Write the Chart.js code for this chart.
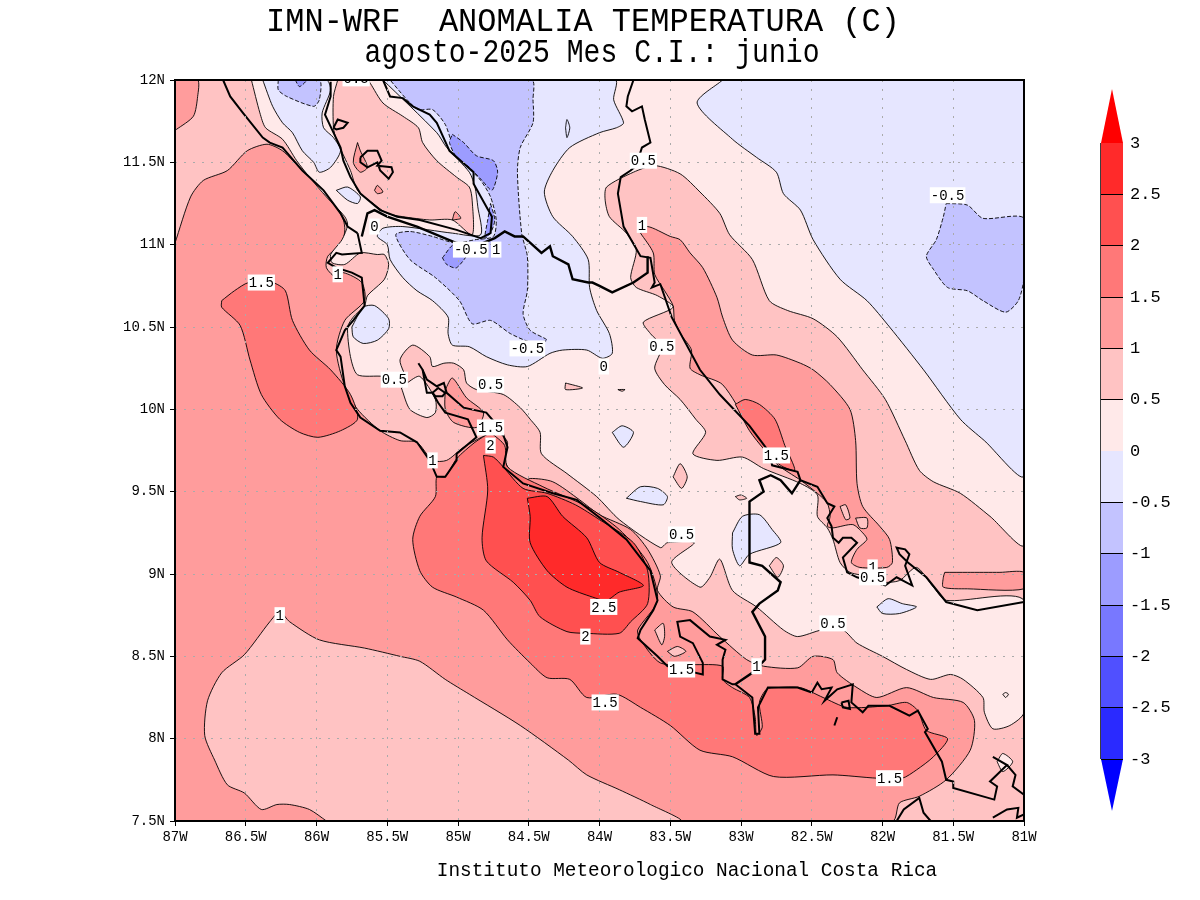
<!DOCTYPE html>
<html>
<head>
<meta charset="utf-8">
<title>IMN-WRF anomalia temperatura</title>
<script src="https://cdn.jsdelivr.net/npm/chart.js@4/dist/chart.umd.min.js"></script>
<style>
  html, body { margin: 0; background: #fff; }
  #map { position: absolute; left: 0; top: 0; }
  #colorbar { position: absolute; left: 1100px; top: 89px; }
</style>
</head>
<body>
<canvas id="map" width="1200" height="900"></canvas>
<canvas id="colorbar" width="100" height="722"></canvas>
<script>
const lonTicks = [-87, -86.5, -86, -85.5, -85, -84.5, -84, -83.5, -83, -82.5, -82, -81.5, -81];
const latTicks = [7.5, 8, 8.5, 9, 9.5, 10, 10.5, 11, 11.5, 12];

// colour bar
const cbLevels = [-3, -2.5, -2, -1.5, -1, -0.5, 0, 0.5, 1, 1.5, 2, 2.5, 3];
const cbCells = ["#2a2aff", "#5050ff", "#7878ff", "#9c9cff", "#c3c3ff", "#e6e6ff", "#ffe9e9", "#ffc3c3", "#ff9c9c", "#ff7878", "#ff5050", "#ff2a2a"];
const cbTipLow = "#0000ff";
const cbTipHigh = "#ff0000";

const C_N10 = "#9c9cff", C_N05 = "#c3c3ff", C_N00 = "#e6e6ff", C_P00 = "#ffe9e9";
const C_P05 = "#ffc3c3", C_P10 = "#ff9c9c", C_P15 = "#ff7878", C_P20 = "#ff5050", C_P25 = "#ff2a2a";

// contour regions, lon/lat
const plotBox = [[-87,12],[-81,12],[-81,7.5],[-87,7.5]];
const west1 = [[-87,11.01],[-86.89,11.29],[-86.80,11.39],[-86.63,11.45],[-86.49,11.57],[-86.35,11.61],[-86.24,11.57],[-86.10,11.45],[-85.98,11.35],[-85.86,11.23],[-85.81,11.15],[-85.80,11.09],[-85.82,11.01],[-85.92,10.93],[-85.93,10.86],[-85.86,10.80],[-85.81,10.83],[-85.68,10.77],[-85.66,10.66],[-85.80,10.54],[-85.86,10.36],[-85.80,10.14],[-85.71,10.00],[-85.55,9.87],[-85.41,9.81],[-85.29,9.80],[-85.18,9.69],[-85.08,9.69],[-84.96,9.77],[-84.81,9.84],[-84.72,9.86],[-84.65,9.80],[-84.67,9.69],[-84.56,9.55],[-84.49,9.58],[-84.33,9.56],[-84.14,9.45],[-84.00,9.36],[-83.78,9.27],[-83.66,9.15],[-83.57,8.99],[-83.59,8.90],[-83.48,8.80],[-83.34,8.77],[-83.15,8.62],[-82.96,8.48],[-82.84,8.44],[-82.60,8.43],[-82.49,8.50],[-82.35,8.48],[-82.32,8.40],[-82.18,8.31],[-82.04,8.25],[-81.83,8.31],[-81.64,8.25],[-81.43,8.22],[-81.35,8.11],[-81.38,7.93],[-81.55,7.75],[-81.74,7.65],[-81.88,7.61],[-81.93,7.5],[-87,7.5]];
const southBand = [[-85.93,7.5],[-86.05,7.57],[-86.19,7.60],[-86.28,7.60],[-86.39,7.57],[-86.51,7.67],[-86.63,7.72],[-86.72,7.87],[-86.79,8.02],[-86.77,8.23],[-86.67,8.40],[-86.51,8.51],[-86.33,8.71],[-86.26,8.77],[-86.19,8.71],[-85.98,8.60],[-85.66,8.55],[-85.41,8.50],[-85.27,8.47],[-85.09,8.36],[-84.92,8.27],[-84.56,8.08],[-84.22,7.87],[-84.09,7.78],[-83.86,7.69],[-83.64,7.60],[-83.43,7.5]];
const nwCorner = [[-87,12],[-86.84,12],[-86.84,11.90],[-86.87,11.78],[-86.99,11.70],[-87,11.70]];
const west15 = [[-86.67,10.66],[-86.58,10.72],[-86.48,10.77],[-86.31,10.77],[-86.22,10.72],[-86.17,10.54],[-86.05,10.36],[-85.90,10.24],[-85.76,10.09],[-85.71,9.94],[-85.83,9.87],[-85.99,9.83],[-86.12,9.86],[-86.26,9.94],[-86.39,10.09],[-86.47,10.30],[-86.54,10.51],[-86.67,10.62]];
const south15 = [[-84.77,9.86],[-84.88,9.80],[-85.01,9.70],[-85.09,9.59],[-85.15,9.59],[-85.16,9.47],[-85.27,9.35],[-85.32,9.21],[-85.27,9.02],[-85.18,8.92],[-85.01,8.86],[-84.82,8.78],[-84.65,8.60],[-84.49,8.46],[-84.37,8.37],[-84.21,8.36],[-84.09,8.25],[-83.88,8.27],[-83.71,8.19],[-83.50,8.08],[-83.29,7.93],[-83.06,7.89],[-82.77,7.77],[-82.35,7.78],[-82.04,7.76],[-81.86,7.76],[-81.76,7.81],[-81.64,7.89],[-81.54,8.00],[-81.69,8.05],[-81.75,8.17],[-81.83,8.22],[-81.97,8.20],[-82.25,8.19],[-82.42,8.25],[-82.58,8.31],[-82.75,8.31],[-82.82,8.30],[-82.87,8.22],[-82.85,8.07],[-82.89,8.02],[-82.90,8.13],[-82.94,8.25],[-83.06,8.31],[-83.13,8.36],[-83.13,8.44],[-83.34,8.45],[-83.57,8.46],[-83.71,8.60],[-83.73,8.66],[-83.59,8.84],[-83.66,9.07],[-83.86,9.27],[-84.09,9.41],[-84.40,9.53],[-84.65,9.65],[-84.67,9.78]];
const osaSpot1 = [[-83.61,8.66],[-83.55,8.70],[-83.54,8.62],[-83.56,8.57]];
const osaSpot2 = [[-83.52,8.53],[-83.45,8.56],[-83.39,8.53],[-83.47,8.50]];
const core2 = [[-84.82,9.72],[-84.79,9.51],[-84.83,9.22],[-84.80,9.08],[-84.61,8.95],[-84.49,8.84],[-84.42,8.74],[-84.23,8.65],[-84.10,8.64],[-83.86,8.64],[-83.78,8.71],[-83.66,8.82],[-83.66,9.02],[-83.76,9.19],[-84.00,9.33],[-84.17,9.42],[-84.37,9.49],[-84.54,9.52],[-84.68,9.65],[-84.75,9.71]];
const core25 = [[-84.51,9.46],[-84.37,9.47],[-84.26,9.35],[-84.09,9.22],[-84.00,9.07],[-83.86,9.01],[-83.69,8.93],[-83.86,8.89],[-83.95,8.84],[-84.05,8.86],[-84.23,8.92],[-84.37,9.02],[-84.49,9.19],[-84.49,9.35]];
const caribe1 = [[-83.71,11.07],[-83.66,11.11],[-83.50,11.05],[-83.43,11.03],[-83.36,10.95],[-83.27,10.86],[-83.17,10.68],[-83.13,10.56],[-83.06,10.42],[-82.92,10.33],[-82.75,10.33],[-82.58,10.28],[-82.49,10.24],[-82.37,10.15],[-82.23,10.00],[-82.19,9.81],[-82.18,9.55],[-82.14,9.41],[-82.02,9.29],[-81.95,9.21],[-81.93,9.07],[-81.97,9.04],[-82.16,9.04],[-82.22,9.07],[-82.18,9.15],[-82.11,9.21],[-82.14,9.25],[-82.21,9.30],[-82.35,9.28],[-82.39,9.29],[-82.37,9.35],[-82.39,9.43],[-82.46,9.49],[-82.58,9.57],[-82.75,9.67],[-82.80,9.75],[-82.94,9.90],[-83.13,10.15],[-83.29,10.21],[-83.36,10.25],[-83.35,10.36],[-83.42,10.45],[-83.47,10.54],[-83.48,10.63],[-83.54,10.72],[-83.61,10.82],[-83.62,10.95]];
const caribe15 = [[-83.04,10.03],[-82.97,10.06],[-82.87,10.03],[-82.76,9.94],[-82.69,9.78],[-82.62,9.63],[-82.72,9.66],[-82.83,9.75],[-82.94,9.87]];
const eastBand = [[-81.56,9.01],[-81.40,9.01],[-81.17,9.01],[-81,9.01],[-81,8.91],[-81.40,8.91],[-81.57,8.92],[-81.57,8.98]];
const below05 = [[-86.46,12],[-81,12],[-81,9.18],[-81.24,9.35],[-81.45,9.49],[-81.64,9.56],[-81.74,9.63],[-81.84,9.81],[-81.98,10.06],[-82.14,10.24],[-82.32,10.44],[-82.49,10.55],[-82.67,10.60],[-82.80,10.66],[-82.92,10.91],[-83.08,11.06],[-83.15,11.19],[-83.29,11.32],[-83.43,11.43],[-83.61,11.48],[-83.76,11.44],[-83.95,11.35],[-83.96,11.27],[-83.93,11.17],[-83.81,11.07],[-83.74,10.97],[-83.78,10.80],[-83.74,10.74],[-83.59,10.69],[-83.48,10.62],[-83.69,10.53],[-83.64,10.46],[-83.56,10.38],[-83.61,10.25],[-83.54,10.15],[-83.43,10.06],[-83.32,9.94],[-83.25,9.86],[-83.34,9.73],[-83.17,9.69],[-82.99,9.71],[-82.84,9.64],[-82.58,9.55],[-82.46,9.48],[-82.46,9.35],[-82.39,9.28],[-82.35,9.21],[-82.30,9.07],[-82.23,9.01],[-82.07,8.98],[-82.00,8.95],[-81.88,8.96],[-81.76,9.04],[-81.64,8.92],[-81.55,8.84],[-81,8.84],[-81,8.16],[-81.10,8.08],[-81.22,8.06],[-81.28,8.16],[-81.29,8.25],[-81.43,8.36],[-81.52,8.39],[-81.66,8.36],[-81.83,8.42],[-82.00,8.50],[-82.18,8.58],[-82.28,8.66],[-82.43,8.66],[-82.60,8.62],[-82.70,8.66],[-82.89,8.80],[-83.06,8.90],[-83.15,9.09],[-83.22,8.98],[-83.29,8.92],[-83.49,9.07],[-83.33,9.19],[-83.52,9.19],[-83.57,9.16],[-83.86,9.33],[-84.02,9.47],[-84.23,9.61],[-84.41,9.73],[-84.42,9.86],[-84.49,9.94],[-84.56,10.01],[-84.68,10.09],[-84.87,10.12],[-84.94,10.16],[-84.96,10.24],[-85.03,10.28],[-85.10,10.28],[-85.18,10.26],[-85.20,10.32],[-85.32,10.39],[-85.41,10.30],[-85.36,10.16],[-85.53,10.20],[-85.71,10.21],[-85.76,10.32],[-85.78,10.50],[-85.74,10.56],[-85.66,10.63],[-85.64,10.69],[-85.52,10.79],[-85.49,10.88],[-85.52,10.94],[-85.57,10.94],[-85.69,10.95],[-85.80,10.88],[-85.89,10.89],[-85.90,10.94],[-85.82,11.03],[-85.78,11.12],[-85.80,11.17],[-85.93,11.29],[-86.05,11.41],[-86.14,11.51],[-86.24,11.64],[-86.36,11.71],[-86.40,11.80]];
const lakeWarm = [[-85.85,12],[-85.88,11.90],[-85.88,11.71],[-85.86,11.64],[-85.76,11.45],[-85.71,11.33],[-85.60,11.25],[-85.50,11.19],[-85.39,11.17],[-85.20,11.15],[-85.04,11.15],[-84.90,11.06],[-84.90,11.27],[-84.92,11.35],[-85.01,11.41],[-85.15,11.51],[-85.25,11.62],[-85.28,11.71],[-85.39,11.78],[-85.53,11.86],[-85.62,11.98],[-85.64,12]];
const lakeSpot1 = [[-85.71,11.62],[-85.74,11.50],[-85.69,11.44],[-85.64,11.47],[-85.69,11.57]];
const lakeSpot2 = [[-85.59,11.33],[-85.57,11.36],[-85.53,11.32],[-85.57,11.31]];
const lakeSpot3 = [[-85.04,11.15],[-85.02,11.20],[-84.98,11.16]];
const centralCool = [[-85.53,12],[-83.89,12],[-83.90,11.88],[-83.83,11.74],[-83.88,11.71],[-84.00,11.68],[-84.21,11.59],[-84.33,11.45],[-84.39,11.32],[-84.33,11.17],[-84.19,11.05],[-84.08,10.91],[-84.07,10.74],[-84.02,10.60],[-83.93,10.46],[-83.91,10.34],[-83.98,10.31],[-84.09,10.36],[-84.26,10.36],[-84.35,10.34],[-84.51,10.26],[-84.65,10.27],[-84.80,10.32],[-84.92,10.38],[-85.04,10.39],[-85.07,10.46],[-85.07,10.56],[-85.18,10.66],[-85.29,10.72],[-85.39,10.80],[-85.48,10.91],[-85.50,11.00],[-85.57,11.05],[-85.53,11.10],[-85.39,11.11],[-85.04,11.07],[-84.84,11.06],[-84.86,11.23],[-84.88,11.35],[-84.92,11.44],[-85.08,11.59],[-85.15,11.68]];
const neCool = [[-83.13,12],[-81,12],[-81,9.60],[-81.28,9.81],[-81.45,9.94],[-81.71,10.24],[-81.95,10.50],[-82.11,10.66],[-82.30,10.79],[-82.49,11.03],[-82.58,11.21],[-82.70,11.31],[-82.75,11.44],[-82.89,11.53],[-83.06,11.64],[-83.31,11.86]];
const nwCool = [[-86.38,12],[-86.31,11.84],[-86.24,11.74],[-86.17,11.68],[-86.10,11.57],[-86.02,11.50],[-85.98,11.44],[-85.90,11.47],[-85.83,11.57],[-85.88,11.65],[-85.95,11.71],[-85.96,11.80],[-85.90,11.94],[-85.93,12]];
const coolSpotA = [[-85.86,11.33],[-85.78,11.35],[-85.69,11.29],[-85.71,11.25],[-85.78,11.27]];
const coolSpotB = [[-85.75,10.50],[-85.67,10.62],[-85.59,10.63],[-85.49,10.55],[-85.49,10.49],[-85.57,10.42],[-85.67,10.40],[-85.74,10.44]];
const coolSpotC = [[-83.06,9.25],[-82.99,9.35],[-82.87,9.36],[-82.78,9.27],[-82.72,9.19],[-82.94,9.12],[-83.01,9.05],[-83.06,9.15]];
const coolSpotD = [[-82.04,8.80],[-81.96,8.85],[-81.86,8.82],[-81.76,8.80],[-81.88,8.76],[-82.00,8.76]];
const coolSpotE = [[-83.81,9.46],[-83.71,9.53],[-83.59,9.52],[-83.52,9.47],[-83.55,9.42],[-83.71,9.44]];
const coolSpotF = [[-83.91,9.86],[-83.84,9.90],[-83.76,9.86],[-83.83,9.77]];
const nicoyaIsle = [[-85.40,10.13],[-85.34,10.00],[-85.22,9.95],[-85.16,9.98],[-85.16,10.06],[-85.27,10.20],[-85.36,10.16]];
const nicoyaWarm = [[-85.09,10.12],[-85.04,10.19],[-84.94,10.07],[-84.82,9.98],[-84.87,9.89],[-85.03,9.92],[-85.09,10.00]];
const warmSpotA = [[-84.24,10.16],[-84.12,10.13],[-84.24,10.12]];
const warmSpotB = [[-83.87,10.12],[-83.82,10.12],[-83.84,10.11]];
const warmSpotC = [[-83.48,9.59],[-83.43,9.67],[-83.38,9.59],[-83.42,9.52]];
const warmSpotD = [[-83.04,9.47],[-83.00,9.48],[-82.96,9.46],[-83.01,9.45]];
const warmSpotE = [[-82.80,9.05],[-82.75,9.10],[-82.70,9.05],[-82.74,8.98]];
const warmSpotF = [[-82.30,9.41],[-82.26,9.42],[-82.23,9.34],[-82.26,9.33]];
const warmSpotG = [[-82.19,9.34],[-82.11,9.34],[-82.11,9.28],[-82.16,9.28]];
const seDiamond = [[-81.19,7.86],[-81.15,7.91],[-81.08,7.86],[-81.15,7.80]];
const seTiny = [[-81.15,8.27],[-81.13,8.28],[-81.11,8.27],[-81.13,8.25]];
const tinyNorth = [[-84.24,11.71],[-84.23,11.76],[-84.21,11.71],[-84.23,11.65]];
const minus05Main = [[-85.48,12],[-84.48,12],[-84.47,11.88],[-84.47,11.74],[-84.56,11.59],[-84.58,11.44],[-84.55,11.07],[-84.51,10.93],[-84.51,10.72],[-84.54,10.58],[-84.49,10.48],[-84.37,10.42],[-84.49,10.41],[-84.63,10.46],[-84.77,10.54],[-84.90,10.52],[-84.99,10.66],[-85.16,10.80],[-85.34,10.91],[-85.44,11.06],[-85.34,11.08],[-85.18,11.05],[-85.02,11.01],[-84.88,11.03],[-84.75,11.05],[-84.73,11.15],[-84.77,11.29],[-84.84,11.39],[-84.97,11.51],[-85.04,11.61],[-85.09,11.73],[-85.18,11.82],[-85.28,11.82],[-85.36,11.88]];
const minus05East = [[-81.55,11.25],[-81.40,11.24],[-81.29,11.16],[-81,11.16],[-81,10.80],[-81.04,10.66],[-81.13,10.59],[-81.29,10.66],[-81.40,10.72],[-81.54,10.74],[-81.64,10.85],[-81.69,10.93],[-81.62,11.03],[-81.57,11.17]];
const minus05Top = [[-86.27,12],[-86.27,11.94],[-86.21,11.90],[-86.02,11.84],[-85.98,11.88],[-85.98,12]];
const minus1A = [[-85.04,11.67],[-84.96,11.62],[-84.87,11.54],[-84.75,11.51],[-84.72,11.44],[-84.76,11.33],[-84.83,11.39],[-84.92,11.47],[-85.01,11.53],[-85.06,11.62]];
const minus1B = [[-84.77,11.25],[-84.74,11.15],[-84.77,11.07],[-84.81,11.04],[-84.79,11.15]];
const minus1C = [[-85.11,10.92],[-85.03,11.00],[-84.92,10.97],[-85.01,10.86],[-85.08,10.88]];
const minus1Top = [[-86.15,12],[-86.12,11.96],[-86.07,12]];

// coastlines and borders
const coastNic = [[-86.66,12],[-86.61,11.90],[-86.52,11.80],[-86.38,11.65],[-86.33,11.62],[-86.24,11.59],[-86.10,11.45],[-85.95,11.33],[-85.83,11.19],[-85.78,11.11],[-85.71,11.07]];
const borderNorth = [[-85.68,11.05],[-85.64,11.19],[-85.59,11.21],[-85.50,11.17],[-85.29,11.11],[-85.01,11.01],[-84.88,10.99],[-84.74,11.04],[-84.67,11.08],[-84.60,11.05],[-84.54,11.05],[-84.41,10.95],[-84.35,10.99],[-84.33,10.93],[-84.22,10.88],[-84.19,10.79],[-84.08,10.77],[-84.05,10.77],[-84,10.75],[-83.91,10.71],[-83.76,10.77],[-83.66,10.83],[-83.66,10.93]];
const coastCaribe = [[-83.76,12],[-83.80,11.90],[-83.81,11.84],[-83.77,11.81],[-83.70,11.84],[-83.68,11.76],[-83.64,11.62],[-83.70,11.59],[-83.74,11.48],[-83.78,11.45],[-83.85,11.41],[-83.87,11.31],[-83.83,11.11],[-83.71,10.93],[-83.64,10.92],[-83.61,10.77],[-83.63,10.74],[-83.57,10.76],[-83.49,10.56],[-83.29,10.24],[-83.15,10.09],[-82.94,9.90],[-82.80,9.74],[-82.78,9.66],[-82.60,9.62],[-82.58,9.57],[-82.46,9.53],[-82.39,9.43],[-82.34,9.41],[-82.39,9.34],[-82.36,9.29],[-82.35,9.22],[-82.31,9.19],[-82.28,9.22],[-82.22,9.22],[-82.18,9.19],[-82.28,9.10],[-82.25,9.01],[-82.18,8.98],[-81.98,8.93],[-81.90,8.98],[-81.79,8.93],[-81.84,9.05],[-81.81,9.12],[-81.84,9.15],[-81.90,9.16],[-81.88,9.12],[-81.82,9.07],[-81.69,8.98],[-81.55,8.83],[-81.33,8.78],[-81,8.83]];
const borderSouth = [[-82.58,9.57],[-82.64,9.49],[-82.72,9.57],[-82.79,9.60],[-82.87,9.57],[-82.84,9.50],[-82.94,9.44],[-82.94,9.07],[-82.85,9.05],[-82.72,8.95],[-82.74,8.90],[-82.87,8.82],[-82.92,8.77],[-82.83,8.62],[-82.83,8.48],[-82.92,8.40],[-83.04,8.33]];
const coastPanama = [[-83.04,8.33],[-82.92,8.25],[-82.90,8.03],[-82.87,8.03],[-82.88,8.19],[-82.81,8.31],[-82.60,8.31],[-82.50,8.28],[-82.46,8.34],[-82.43,8.30],[-82.36,8.31],[-82.41,8.23],[-82.32,8.30],[-82.21,8.33],[-82.22,8.22],[-82.14,8.16],[-82.10,8.20],[-81.95,8.20],[-81.81,8.14],[-81.75,8.17],[-81.68,8.06],[-81.70,8.04],[-81.58,7.86],[-81.55,7.75],[-81.50,7.74],[-81.50,7.70],[-81.21,7.63],[-81.19,7.71],[-81.24,7.74],[-81.12,7.84],[-81.22,7.89]];
const coastPanamaEast = [[-81.12,7.84],[-81.06,7.78],[-81.08,7.71],[-81,7.66]];
const coastPanamaIsle = [[-82.29,8.22],[-82.24,8.23],[-82.23,8.18],[-82.28,8.19],[-82.29,8.22]];
const coastPanamaDash = [[-82.34,8.08],[-82.32,8.13]];
const coastSouthA = [[-81.90,7.5],[-81.85,7.57],[-81.74,7.64],[-81.71,7.55],[-81.66,7.5]];
const coastSouthB = [[-81.22,7.52],[-81.12,7.57],[-81.04,7.58],[-81.05,7.52],[-81,7.54]];
const coastNicoya = [[-85.71,11.07],[-85.68,10.95],[-85.82,10.94],[-85.86,10.95],[-85.92,10.89],[-85.86,10.86],[-85.75,10.83],[-85.68,10.80],[-85.66,10.63],[-85.74,10.54],[-85.80,10.48],[-85.86,10.36],[-85.83,10.32],[-85.80,10.14],[-85.76,10.04],[-85.69,9.95],[-85.55,9.87],[-85.41,9.86],[-85.29,9.80],[-85.20,9.69],[-85.15,9.59],[-85.09,9.59],[-85.01,9.69],[-85.01,9.73],[-84.87,9.83],[-84.93,9.94],[-85.09,9.98],[-85.14,10.04],[-85.18,10.10],[-85.22,10.10],[-85.25,10.24],[-85.28,10.28]];
const coastGulf = [[-85.25,10.24],[-85.22,10.18],[-85.15,10.14],[-85.10,10.16],[-85.08,10.10],[-84.96,10.01],[-84.80,9.98],[-84.69,9.87],[-84.65,9.77],[-84.67,9.69],[-84.68,9.65],[-84.54,9.55],[-84.33,9.49],[-84.16,9.45],[-83.98,9.33],[-83.81,9.21],[-83.64,9.02],[-83.59,8.84],[-83.62,8.78],[-83.71,8.66],[-83.73,8.61],[-83.59,8.50],[-83.52,8.44],[-83.27,8.39],[-83.27,8.46],[-83.34,8.58],[-83.43,8.62],[-83.45,8.71],[-83.36,8.72],[-83.22,8.62],[-83.11,8.60],[-83.17,8.57],[-83.11,8.54],[-83.13,8.48],[-83.13,8.36],[-83.06,8.33],[-83.04,8.33]];
const gulfIsle = [[-85.18,10.10],[-85.14,10.13],[-85.09,10.10],[-85.11,10.08],[-85.16,10.08],[-85.18,10.10]];
const lakeShore = [[-85.90,11.99],[-85.90,11.90],[-85.94,11.79],[-85.88,11.68],[-85.83,11.59],[-85.81,11.51],[-85.76,11.41],[-85.69,11.31],[-85.55,11.21],[-85.43,11.17],[-85.27,11.15],[-85.01,11.09],[-84.84,11.04],[-84.77,11.07],[-84.76,11.17],[-84.89,11.37],[-84.89,11.44],[-85.06,11.57],[-85.15,11.74],[-85.20,11.79],[-85.32,11.84],[-85.39,11.89],[-85.48,11.90],[-85.53,12]];
const lakeIsleA = [[-85.69,11.53],[-85.64,11.57],[-85.57,11.57],[-85.54,11.51],[-85.57,11.48],[-85.47,11.47],[-85.46,11.44],[-85.49,11.40],[-85.55,11.45],[-85.57,11.50],[-85.64,11.47],[-85.69,11.50],[-85.69,11.53]];
const lakeIsleB = [[-85.88,11.71],[-85.85,11.76],[-85.78,11.74],[-85.81,11.71],[-85.86,11.70],[-85.88,11.71]];

// contour labels
const labelTexts = ["0.5", "1.5", "1", "0", "-0.5", "1", "0.5", "1", "-0.5", "0.5", "0", "-0.5", "0.5", "0.5", "1.5", "2", "1", "1.5", "0.5", "1", "0.5", "2.5", "2", "1", "0.5", "1.5", "1", "1.5", "1.5"];
const labelLons = [-85.72, -86.39, -85.85, -85.59, -84.91, -84.73, -83.69, -83.70, -81.54, -83.56, -83.97, -84.51, -85.45, -84.77, -84.77, -84.77, -85.18, -82.75, -83.42, -82.07, -82.07, -83.97, -84.10, -86.26, -82.35, -83.42, -82.89, -83.96, -81.95];
const labelLats = [12.01, 10.77, 10.82, 11.11, 10.97, 10.97, 11.51, 11.12, 11.30, 10.38, 10.26, 10.37, 10.18, 10.15, 9.89, 9.78, 9.69, 9.72, 9.24, 9.04, 8.98, 8.80, 8.62, 8.75, 8.70, 8.42, 8.44, 8.22, 7.76];

const titleLine1 = "IMN-WRF  ANOMALIA TEMPERATURA (C)";
const titleLine2 = "agosto-2025 Mes C.I.: junio";
const footerText = "Instituto Meteorologico Nacional Costa Rica";

const MONO = '"Liberation Mono", monospace';

const toXY = pts => pts.map(([x, y]) => ({ x, y }));

function region(pts, color, dashed, noLine) {
    return {
        data: toXY(pts.concat([pts[0]])),
        showLine: true,
        fill: "shape",
        backgroundColor: color,
        borderColor: noLine ? color : "#000",
        borderWidth: noLine ? 0 : 0.9,
        borderDash: dashed ? [4, 2] : [],
        pointRadius: 0,
        tension: noLine ? 0 : 0.25
    };
}

function shore(pts, width) {
    return {
        data: toXY(pts),
        showLine: true,
        fill: false,
        borderColor: "#000",
        borderWidth: width || 2,
        pointRadius: 0,
        tension: 0
    };
}

// painter's order, bottom first
const mapLayers = [
    region(plotBox, C_P05, false, true),
    region(west1, C_P10),
    region(southBand, C_P05),
    region(nwCorner, C_P10),
    region(west15, C_P15),
    region(south15, C_P15),
    region(osaSpot1, C_P05),
    region(osaSpot2, C_P05),
    region(core2, C_P20),
    region(core25, C_P25),
    region(caribe1, C_P10),
    region(caribe15, C_P15),
    region(eastBand, C_P10),
    region(below05, C_P00),
    region(centralCool, C_N00),
    region(neCool, C_N00),
    region(nwCool, C_N00),
    region(lakeWarm, C_P05),
    region(lakeSpot1, C_P10),
    region(lakeSpot2, C_P10),
    region(lakeSpot3, C_P10),
    region(coolSpotA, C_N00),
    region(coolSpotB, C_N00),
    region(coolSpotC, C_N00),
    region(coolSpotD, C_N00),
    region(coolSpotE, C_N00),
    region(coolSpotF, C_N00),
    region(nicoyaIsle, C_P00),
    region(nicoyaWarm, C_P10),
    region(warmSpotA, C_P05),
    region(warmSpotB, C_P05),
    region(warmSpotC, C_P05),
    region(warmSpotD, C_P05),
    region(warmSpotE, C_P05),
    region(warmSpotF, C_P05),
    region(warmSpotG, C_P05),
    region(seDiamond, C_P00),
    region(seTiny, C_P00),
    region(tinyNorth, C_N00),
    region(minus05Main, C_N05, true),
    region(minus05East, C_N05, true),
    region(minus05Top, C_N05, true),
    region(minus1A, C_N10, true),
    region(minus1B, C_N10, true),
    region(minus1C, C_N10, true),
    region(minus1Top, C_N10, true),
    shore(coastNic),
    shore(borderNorth, 2.4),
    shore(coastCaribe),
    shore(borderSouth, 2.4),
    shore(coastPanama),
    shore(coastPanamaEast),
    shore(coastPanamaIsle),
    shore(coastPanamaDash),
    shore(coastSouthA),
    shore(coastSouthB),
    shore(coastNicoya),
    shore(coastGulf),
    shore(gulfIsle),
    shore(lakeShore),
    shore(lakeIsleA),
    shore(lakeIsleB)
];
// chart.js paints low "order" last
mapLayers.forEach((d, i) => { d.order = mapLayers.length - i; });

const mapOverlay = {
    id: "mapOverlay",
    afterDraw(chart) {
        const { ctx, chartArea: a, scales } = chart;
        ctx.save();
        ctx.beginPath();
        ctx.rect(a.left, a.top, a.right - a.left, a.bottom - a.top);
        ctx.clip();
        ctx.font = "14px " + MONO;
        ctx.textAlign = "center";
        ctx.textBaseline = "middle";
        labelTexts.forEach((t, i) => {
            const x = scales.x.getPixelForValue(labelLons[i]);
            const y = scales.y.getPixelForValue(labelLats[i]);
            const w = ctx.measureText(t).width + 2;
            ctx.fillStyle = "#fff";
            ctx.fillRect(x - w / 2, y - 8, w, 16);
            ctx.fillStyle = "#000";
            ctx.fillText(t, x, y + 1);
        });
        ctx.restore();

        ctx.save();
        ctx.strokeStyle = "#000";
        ctx.lineWidth = 2;
        ctx.strokeRect(a.left, a.top, a.right - a.left, a.bottom - a.top);
        ctx.fillStyle = "#000";
        ctx.textAlign = "center";
        ctx.textBaseline = "alphabetic";
        ctx.font = "33px " + MONO;
        ctx.fillText(titleLine1, 583, 31, 634);
        ctx.fillText(titleLine2, 592, 62, 455);
        ctx.font = "19.4px " + MONO;
        ctx.fillText(footerText, 687, 876);
        ctx.restore();
    }
};

new Chart(document.getElementById("map"), {
    type: "scatter",
    data: { datasets: mapLayers },
    plugins: [mapOverlay],
    options: {
        responsive: false,
        animation: false,
        devicePixelRatio: 1,
        events: [],
        layout: { padding: { top: 80, right: 176, bottom: 0, left: 0 } },
        plugins: { legend: { display: false }, tooltip: { enabled: false } },
        scales: {
            x: {
                type: "linear",
                min: -87,
                max: -81,
                afterBuildTicks: s => { s.ticks = lonTicks.map(value => ({ value })); },
                afterFit: s => { s.height = 79; },
                ticks: {
                    autoSkip: false,
                    maxRotation: 0,
                    padding: 3,
                    color: "#000",
                    font: { family: "Liberation Mono", size: 14 },
                    callback: v => Math.abs(v) + "W"
                },
                grid: { color: "#aaa", z: 1, tickColor: "#000", tickLength: 5, tickBorderDash: [] },
                border: { display: false, dash: [2, 7] }
            },
            y: {
                type: "linear",
                min: 7.5,
                max: 12,
                afterBuildTicks: s => { s.ticks = latTicks.map(value => ({ value })); },
                afterFit: s => { s.width = 175; },
                ticks: {
                    autoSkip: false,
                    padding: 5,
                    color: "#000",
                    font: { family: "Liberation Mono", size: 14 },
                    callback: v => v + "N"
                },
                grid: { color: "#aaa", z: 1, tickColor: "#000", tickLength: 5, tickBorderDash: [] },
                border: { display: false, dash: [2, 7] }
            }
        }
    }
});

// colour bar, one filled cell per level pair plus the two end tips
const cbTipTop = 3.526;
const cbTipBottom = -3.506;
const cbDatasets = [];
cbCells.forEach((color, i) => {
    const lo = cbLevels[i], hi = cbLevels[i + 1];
    cbDatasets.push(region([[0, lo], [1, lo], [1, hi], [0, hi]], color, false, true));
});
cbDatasets.push(region([[0, 3], [1, 3], [0.5, cbTipTop]], cbTipHigh, false, true));
cbDatasets.push(region([[0, -3], [1, -3], [0.5, cbTipBottom]], cbTipLow, false, true));
cbDatasets.push(shore([[0, 3], [0, -3]], 1.5));
cbDatasets.forEach(d => { d.clip = false; });

new Chart(document.getElementById("colorbar"), {
    type: "scatter",
    data: { datasets: cbDatasets },
    options: {
        responsive: false,
        animation: false,
        devicePixelRatio: 1,
        events: [],
        layout: { padding: { top: 0, right: 0, bottom: 0, left: 1 }, autoPadding: false },
        plugins: { legend: { display: false }, tooltip: { enabled: false } },
        scales: {
            x: { type: "linear", min: 0, max: 1, display: false },
            y: {
                type: "linear",
                position: "right",
                min: cbTipBottom,
                max: cbTipTop,
                afterBuildTicks: s => { s.ticks = cbLevels.map(value => ({ value })); },
                afterFit: s => { s.width = 77; s.paddingTop = 0; s.paddingBottom = 0; },
                ticks: {
                    autoSkip: false,
                    crossAlign: "near",
                    padding: 7,
                    color: "#000",
                    font: { family: "Liberation Mono", size: 17 },
                    callback: v => String(v)
                },
                grid: {
                    z: 1,
                    drawTicks: false,
                    color: c => (c.tick && (c.tick.value === 0 || c.tick.value === 3)) ? "rgba(0,0,0,0)" : "#000"
                },
                border: { display: false }
            }
        }
    }
});
</script>
</body>
</html>
